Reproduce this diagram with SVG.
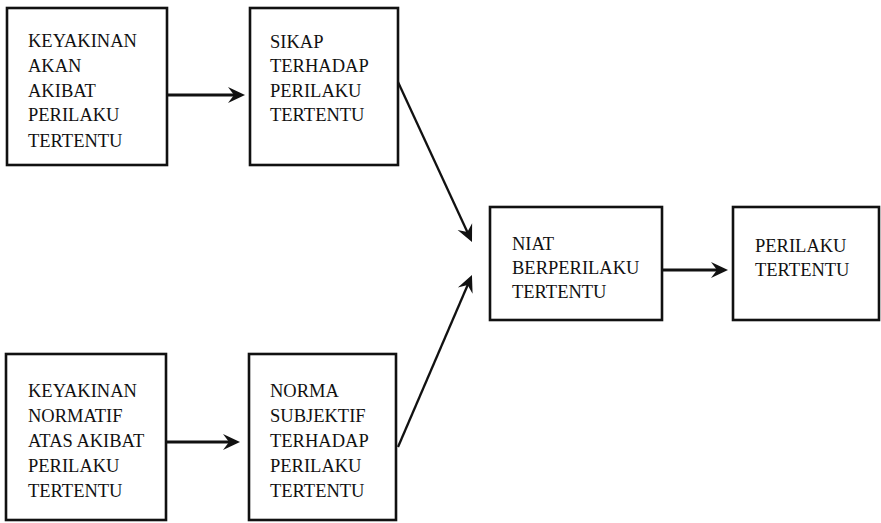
<svg xmlns="http://www.w3.org/2000/svg" width="881" height="523" viewBox="0 0 881 523">
<style>
.box{fill:#fff;stroke:#111;stroke-width:2.6}
.t{font-family:"Liberation Serif","Times New Roman",serif;font-size:18.5px;fill:#111}
.c{fill:none;stroke:#111;stroke-width:3}
.d{fill:none;stroke:#111;stroke-width:2.3}
</style>
<defs>
<marker id="ah" markerUnits="userSpaceOnUse" markerWidth="24" markerHeight="24" viewBox="0 -12 24 24" refX="7" refY="0" orient="auto">
<path d="M17,0 L0,-8 L6,0 L0,8 Z" fill="#111"/>
</marker>
</defs>
<rect width="881" height="523" fill="#fff"/>
<g id="n1"><rect class="box" x="7" y="8" width="160" height="157"/>
<text class="t" x="28" y="47">KEYAKINAN</text><text class="t" x="28" y="72">AKAN</text><text class="t" x="28" y="97">AKIBAT</text><text class="t" x="28" y="121">PERILAKU</text><text class="t" x="28" y="147">TERTENTU</text></g>
<g id="n2"><rect class="box" x="250" y="8" width="148" height="157"/>
<text class="t" x="270" y="48">SIKAP</text><text class="t" x="270" y="72">TERHADAP</text><text class="t" x="270" y="97">PERILAKU</text><text class="t" x="270" y="121">TERTENTU</text></g>
<g id="n3"><rect class="box" x="6" y="354" width="160" height="166"/>
<text class="t" x="28" y="397">KEYAKINAN</text><text class="t" x="28" y="422">NORMATIF</text><text class="t" x="28" y="447">ATAS AKIBAT</text><text class="t" x="28" y="472">PERILAKU</text><text class="t" x="28" y="497">TERTENTU</text></g>
<g id="n4"><rect class="box" x="249" y="354" width="147" height="166"/>
<text class="t" x="270" y="397">NORMA</text><text class="t" x="270" y="422">SUBJEKTIF</text><text class="t" x="270" y="447">TERHADAP</text><text class="t" x="270" y="472">PERILAKU</text><text class="t" x="270" y="497">TERTENTU</text></g>
<g id="n5"><rect class="box" x="490" y="207" width="172" height="113"/>
<text class="t" x="512" y="250">NIAT</text><text class="t" x="512" y="274">BERPERILAKU</text><text class="t" x="512" y="298">TERTENTU</text></g>
<g id="n6"><rect class="box" x="733" y="207" width="146" height="113"/>
<text class="t" x="755" y="252">PERILAKU</text><text class="t" x="755" y="276">TERTENTU</text></g>
<g id="connectors">
<line class="c" x1="168" y1="95" x2="235" y2="95" marker-end="url(#ah)"/>
<line class="c" x1="167" y1="442" x2="230" y2="442" marker-end="url(#ah)"/>
<line class="c" x1="663" y1="270" x2="718" y2="270" marker-end="url(#ah)"/>
<line class="d" x1="398" y1="82" x2="467.8" y2="232.9" marker-end="url(#ah)"/>
<line class="d" x1="398" y1="447" x2="468" y2="284.2" marker-end="url(#ah)"/>
</g>
</svg>
